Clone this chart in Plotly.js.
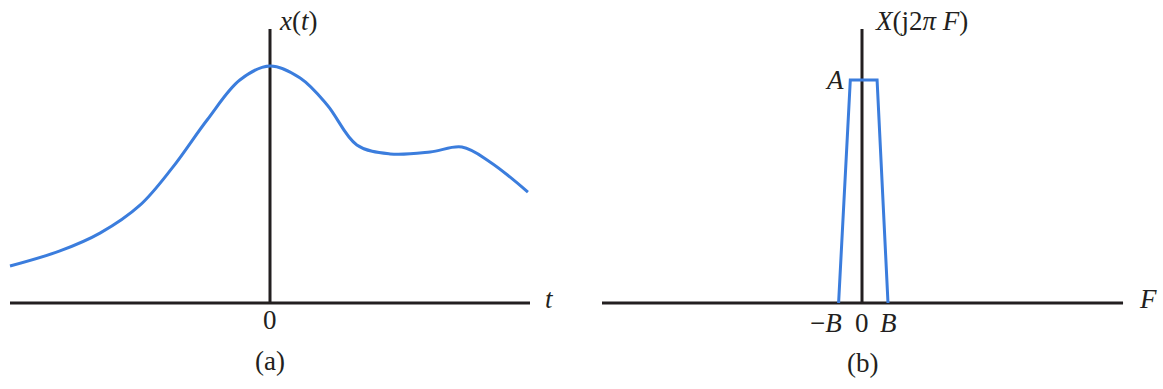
<!DOCTYPE html>
<html>
<head>
<meta charset="utf-8">
<script src="https://cdn.plot.ly/plotly-3.0.1.min.js"></script>
<style>html,body{margin:0;padding:0;background:#fff;}#chart{width:1163px;height:389px;}</style>
</head>
<body>
<div id="chart"></div>
<script>
// Panel (a): time signal x(t)
const tValues = [-5.0, -4.04, -3.27, -2.5, -1.88, -1.21, -0.58, 0.0, 0.58, 1.10, 1.67, 2.31, 3.08, 3.69, 4.23, 4.96];
const xValues = [1.35, 1.90, 2.55, 3.57, 4.93, 6.68, 8.14, 8.65, 8.21, 7.23, 5.77, 5.44, 5.51, 5.69, 5.15, 4.05];
// Panel (b): band-limited spectrum X(j2πF)
const fValues = [-0.9, -0.45, 0.58, 1.0];
const specValues = [0, 8.14, 8.14, 0];
const amplitudeA = 8.14;
// axis extents (drawn axis lines) and view ranges in data units
const tAxisEnds = [-5, 5];
const fAxisEnds = [-10, 10.04];
const yTop = 10;
const tView = [-5.1923, 5.9615];
const fView = [-10.846, 11.577];
const yView = [-3.1387, 11.0584];

const blue = '#3b7ddd';
const ink = '#231f20';
const serif = '"Liberation Serif", "DejaVu Serif", serif';

const traces = [
  {x: tValues, y: xValues, xaxis: 'x', yaxis: 'y', mode: 'lines',
   line: {color: blue, width: 3, shape: 'spline', smoothing: 1}, hoverinfo: 'skip'},
  {x: fValues, y: specValues, xaxis: 'x2', yaxis: 'y2', mode: 'lines',
   line: {color: blue, width: 3}, hoverinfo: 'skip'}
];

const axisCommon = {showgrid: false, zeroline: false, showticklabels: false, ticks: '', showline: false, fixedrange: true};

const shapes = [
  {type: 'line', xref: 'x', yref: 'y', x0: tAxisEnds[0], x1: tAxisEnds[1], y0: 0, y1: 0, line: {color: ink, width: 3}, layer: 'below'},
  {type: 'line', xref: 'x', yref: 'y', x0: 0, x1: 0, y0: 0, y1: yTop, line: {color: ink, width: 3}, layer: 'below'},
  {type: 'line', xref: 'x2', yref: 'y2', x0: fAxisEnds[0], x1: fAxisEnds[1], y0: 0, y1: 0, line: {color: ink, width: 3}, layer: 'below'},
  {type: 'line', xref: 'x2', yref: 'y2', x0: 0, x1: 0, y0: 0, y1: yTop, line: {color: ink, width: 3}, layer: 'below'}
];

const f = (size) => ({family: serif, size: size, color: ink});
const FS = 27;
const annotations = [
  {xref: 'x', yref: 'y', x: 0.13, y: 10.3, text: '<i>x</i>(<i>t</i>)', showarrow: false, xanchor: 'left', yanchor: 'middle', font: f(FS)},
  {xref: 'x', yref: 'y', x: 5.38, y: 0.15, text: '<i>t</i>', showarrow: false, xanchor: 'center', yanchor: 'middle', font: f(FS)},
  {xref: 'x', yref: 'y', x: 0, y: -0.62, text: '0', showarrow: false, xanchor: 'center', yanchor: 'middle', font: f(FS)},
  {xref: 'x', yref: 'y', x: 0, y: -2.1, text: '(a)', showarrow: false, xanchor: 'center', yanchor: 'middle', font: f(FS)},
  {xref: 'x2', yref: 'y2', x: 0.42, y: 10.3, text: '<i>X</i>(j2<i>π</i> <i>F</i>)', showarrow: false, xanchor: 'left', yanchor: 'middle', font: f(FS)},
  {xref: 'x2', yref: 'y2', x: -0.6, y: amplitudeA, text: '<i>A</i>', showarrow: false, xanchor: 'right', yanchor: 'middle', font: f(FS)},
  {xref: 'x2', yref: 'y2', x: -1.38, y: -0.74, text: '−<i>B</i>', showarrow: false, xanchor: 'center', yanchor: 'middle', font: f(FS)},
  {xref: 'x2', yref: 'y2', x: 0, y: -0.74, text: '0', showarrow: false, xanchor: 'center', yanchor: 'middle', font: f(FS)},
  {xref: 'x2', yref: 'y2', x: 1.0, y: -0.74, text: '<i>B</i>', showarrow: false, xanchor: 'center', yanchor: 'middle', font: f(FS)},
  {xref: 'x2', yref: 'y2', x: 11.0, y: 0.15, text: '<i>F</i>', showarrow: false, xanchor: 'center', yanchor: 'middle', font: f(FS)},
  {xref: 'x2', yref: 'y2', x: 0, y: -2.18, text: '(b)', showarrow: false, xanchor: 'center', yanchor: 'middle', font: f(FS)}
];

const layout = {
  width: 1163, height: 389,
  margin: {l: 0, r: 0, t: 0, b: 0, pad: 0},
  paper_bgcolor: '#ffffff', plot_bgcolor: 'rgba(0,0,0,0)',
  showlegend: false,
  xaxis: Object.assign({}, axisCommon, {domain: [0, 580/1163], range: tView, anchor: 'y'}),
  yaxis: Object.assign({}, axisCommon, {domain: [0, 1], range: yView, anchor: 'x'}),
  xaxis2: Object.assign({}, axisCommon, {domain: [580/1163, 1], range: fView, anchor: 'y2'}),
  yaxis2: Object.assign({}, axisCommon, {domain: [0, 1], range: yView, anchor: 'x2'}),
  shapes: shapes,
  annotations: annotations
};

Plotly.newPlot('chart', traces, layout, {staticPlot: true, displayModeBar: false});
</script>
</body>
</html>
